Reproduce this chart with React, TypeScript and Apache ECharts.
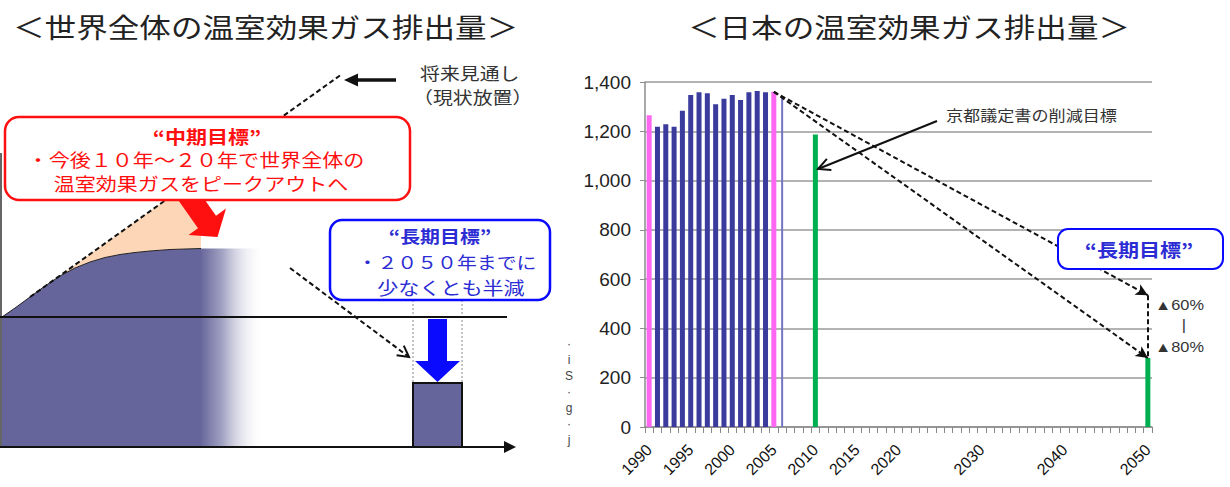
import React, { useEffect, useRef } from 'react';
import * as echarts from 'echarts';

// ---------- data (right chart: Japan GHG emissions, Mt-CO2) ----------
const categoryYears = [
  '1990', '1991', '1992', '1993', '1994', '1995', '1996', '1997', '1998', '1999',
  '2000', '2001', '2002', '2003', '2004', '2005', '2006', '2007', '2008', '2009',
  '2010', '2011', '2012', '2013', '2014', '2015', '2016', '2017', '2018', '2019',
  '2020', '2021', '2022', '2023', '2024', '2025', '2026', '2027', '2028', '2029',
  '2030', '2031', '2032', '2033', '2034', '2035', '2036', '2037', '2038', '2039',
  '2040', '2041', '2042', '2043', '2044', '2045', '2046', '2047', '2048', '2049',
  '2050',
];
const shownYearLabels = ['1990', '1995', '2000', '2005', '2010', '2015', '2020', '2030', '2040', '2050'];

const baseYearCats = ['1990', '2005'];
const baseYearValues = [1265, 1360];
const annualCats = ['1991', '1992', '1993', '1994', '1995', '1996', '1997', '1998', '1999', '2000', '2001', '2002', '2003', '2004'];
const annualValues = [1218, 1229, 1218, 1283, 1347, 1358, 1354, 1310, 1332, 1347, 1327, 1358, 1363, 1358];
const latestCats = ['2006'];
const latestValues = [1335];
const targetCats = ['2010', '2050'];
const targetValues = [1187, 280];

const longTermStartYear = '2005';
const longTermStartValue = 1360;
const longTermEndYear = '2050';
const cut60Value = 535;
const cut80Value = 280;

const yMin = 0;
const yMax = 1400;
const yStep = 200;

const PINK = '#ff66f2';
const NAVY_BAR = '#3b3b9e';
const THIN_BAR = '#7474c4';
const GREEN = '#00b050';
const NAVY = '#65659b';
const PEACH = '#fcd6b6';
const RED = '#ff1010';
const BLUE = '#0a0aff';
const BLUE_TEXT = '#2c2cd4';
const JP = '"Noto Sans CJK JP", "Noto Sans", sans-serif';
const LAT = '"Liberation Sans", Arial, sans-serif';
const SX = 1.17; // horizontal stretch of the source picture

function arrowHead(x1: number, y1: number, x2: number, y2: number, len = 10, half = 5) {
  const dx = x2 - x1;
  const dy = y2 - y1;
  const L = Math.hypot(dx, dy);
  const ux = dx / L;
  const uy = dy / L;
  const bx = x2 - ux * len;
  const by = y2 - uy * len;
  return [
    [bx - uy * half, by + ux * half],
    [x2, y2],
    [bx + uy * half, by - ux * half],
  ];
}

function txt(text: string, x: number, y: number, fontSize: number, fill: string, opts: any = {}) {
  return {
    type: 'text',
    x,
    y,
    z: 120,
    scaleX: opts.scaleX ?? SX,
    style: {
      text,
      fontSize,
      fontFamily: opts.fontFamily || JP,
      fontWeight: opts.fontWeight || 'normal',
      fill,
      align: opts.align || 'center',
      verticalAlign: 'middle',
      lineHeight: opts.lineHeight,
    },
  };
}

function buildGraphics() {
  const els: any[] = [];
  // ---------- left schematic ----------
  const curve = [
    [2, 317], [15, 308], [30, 297], [45, 286], [60, 276], [75, 268], [90, 262],
    [105, 257.5], [120, 254.5], [135, 252.5], [150, 251], [170, 249.5], [201, 248.5],
  ];
  els.push({ type: 'polygon', z: 100, shape: { points: [...curve, [201, 447], [2, 447]] }, style: { fill: NAVY } });
  els.push({
    type: 'rect', z: 100, shape: { x: 200, y: 248.5, width: 64, height: 198.5 },
    style: {
      fill: new echarts.graphic.LinearGradient(0, 0, 1, 0, [
        { offset: 0, color: NAVY },
        { offset: 0.35, color: 'rgba(101,101,155,0.6)' },
        { offset: 1, color: 'rgba(255,255,255,0)' },
      ]),
    },
  });
  const peachCurve = curve.filter((p) => p[0] >= 30).slice().reverse();
  els.push({ type: 'polygon', z: 100, shape: { points: [[30, 297], [163, 202], [165, 200], [201, 200], ...peachCurve] }, style: { fill: PEACH } });
  els.push({ type: 'polyline', z: 101, shape: { points: curve }, style: { stroke: '#222', lineWidth: 1, fill: null } });
  // projection dashed line
  els.push({ type: 'line', z: 102, shape: { x1: 30, y1: 297, x2: 342, y2: 74 }, style: { stroke: '#111', lineWidth: 2, lineDash: [5, 3] } });
  // red arrow
  els.push({
    type: 'polygon', z: 103,
    shape: { points: [[190, 178.7], [216, 215.7], [226, 208.5], [217.5, 237], [188.5, 235], [198, 228.3], [172, 191.3]] },
    style: { fill: RED },
  });
  // red box
  els.push({ type: 'rect', z: 104, shape: { x: 5, y: 117, width: 405, height: 83, r: 14 }, style: { fill: '#fff', stroke: RED, lineWidth: 2.5 } });
  els.push(txt('“中期目標”', 207, 136, 18, RED, { fontWeight: 'bold' }));
  els.push(txt('・今後１０年～２０年で世界全体の', 196, 159, 18, RED));
  els.push(txt('温室効果ガスをピークアウトへ', 201, 183, 18, RED));
  // axes lines of schematic
  els.push({ type: 'line', z: 105, shape: { x1: 1, y1: 153, x2: 1, y2: 447 }, style: { stroke: '#666', lineWidth: 2 } });
  els.push({ type: 'line', z: 105, shape: { x1: 0, y1: 317, x2: 507, y2: 317 }, style: { stroke: '#111', lineWidth: 2 } });
  els.push({ type: 'line', z: 105, shape: { x1: 0, y1: 447, x2: 506, y2: 447 }, style: { stroke: '#111', lineWidth: 2 } });
  els.push({ type: 'polygon', z: 105, shape: { points: [[504, 441], [516, 447], [504, 453]] }, style: { fill: '#111' } });
  // future outlook label + arrow
  els.push(txt('将来見通し', 420, 73, 17, '#333', { align: 'left' }));
  els.push(txt('（現状放置）', 413, 97, 17, '#333', { align: 'left' }));
  els.push({ type: 'line', z: 105, shape: { x1: 396, y1: 80, x2: 356, y2: 80 }, style: { stroke: '#111', lineWidth: 3.5 } });
  els.push({ type: 'polygon', z: 105, shape: { points: [[358, 73.5], [344, 80], [358, 86.5]] }, style: { fill: '#111' } });
  // dashed arrow to the 2050 column
  els.push({ type: 'line', z: 105, shape: { x1: 290, y1: 268, x2: 409, y2: 357 }, style: { stroke: '#111', lineWidth: 2, lineDash: [5, 3] } });
  els.push({ type: 'polyline', z: 105, shape: { points: arrowHead(290, 268, 409, 357, 11, 6) }, style: { stroke: '#111', lineWidth: 2, fill: null } });
  // 2050 column
  els.push({ type: 'line', z: 104, shape: { x1: 413, y1: 300, x2: 413, y2: 383 }, style: { stroke: '#888', lineWidth: 1, lineDash: [2, 2] } });
  els.push({ type: 'line', z: 104, shape: { x1: 462, y1: 300, x2: 462, y2: 383 }, style: { stroke: '#888', lineWidth: 1, lineDash: [2, 2] } });
  els.push({
    type: 'polygon', z: 106,
    shape: { points: [[428, 319], [447, 319], [447, 361], [460, 361], [437.5, 382], [415, 361], [428, 361]] },
    style: { fill: BLUE },
  });
  els.push({ type: 'rect', z: 106, shape: { x: 413, y: 383, width: 49, height: 64 }, style: { fill: NAVY, stroke: '#111', lineWidth: 2 } });
  // blue box
  els.push({ type: 'rect', z: 107, shape: { x: 330, y: 220, width: 220, height: 80, r: 12 }, style: { fill: '#fff', stroke: BLUE, lineWidth: 2.5 } });
  els.push(txt('“長期目標”', 440, 236, 17, BLUE_TEXT, { fontWeight: 'bold' }));
  els.push(txt('・２０５０年までに', 447, 262, 17, BLUE_TEXT));
  els.push(txt('少なくとも半減', 451, 287, 18, BLUE_TEXT));
  // titles
  els.push(txt('＜世界全体の温室効果ガス排出量＞', 13, 26, 27, '#222', { align: 'left' }));
  els.push(txt('＜日本の温室効果ガス排出量＞', 909, 26, 27, '#222'));
  // ---------- right chart annotations ----------
  els.push(txt('京都議定書の削減目標', 946, 114, 15, '#333', { align: 'left', scaleX: 1.14 }));
  els.push({ type: 'line', z: 110, shape: { x1: 937, y1: 121, x2: 818, y2: 169 }, style: { stroke: '#111', lineWidth: 2 } });
  els.push({ type: 'polyline', z: 110, shape: { points: arrowHead(937, 121, 818, 169, 12, 6) }, style: { stroke: '#111', lineWidth: 2, fill: null } });
  els.push({ type: 'rect', z: 110, shape: { x: 1058, y: 229, width: 165, height: 40, r: 10 }, style: { fill: '#fff', stroke: BLUE, lineWidth: 2 } });
  els.push(txt('“長期目標”', 1139, 249, 18, BLUE_TEXT, { fontWeight: 'bold' }));
  els.push(txt('▲60%', 1155, 305, 14, '#333', { align: 'left', fontFamily: LAT }));
  els.push(txt('|', 1184, 325, 14, '#333', { fontFamily: LAT }));
  els.push(txt('▲80%', 1155, 347, 14, '#333', { align: 'left', fontFamily: LAT }));
  els.push(txt('·\ni\nS\n·\ng\n·\nj', 569, 392, 12, '#444', { fontFamily: LAT, lineHeight: 16, scaleX: 1 }));
  return els;
}

export default function App() {
  const ref = useRef<HTMLDivElement>(null);
  useEffect(() => {
    if (!ref.current) return;
    const chart = echarts.init(ref.current, undefined, { renderer: 'svg' });

    const barData = categoryYears.map((y) => {
      let i = baseYearCats.indexOf(y);
      if (i >= 0) return { value: baseYearValues[i], itemStyle: { color: PINK } };
      i = annualCats.indexOf(y);
      if (i >= 0) return { value: annualValues[i], itemStyle: { color: NAVY_BAR } };
      i = targetCats.indexOf(y);
      if (i >= 0) return { value: targetValues[i], itemStyle: { color: GREEN } };
      return '-';
    });
    const latestData = categoryYears.map((y) => {
      const i = latestCats.indexOf(y);
      return i >= 0 ? latestValues[i] : '-';
    });

    chart.setOption({
      animation: false,
      grid: { left: 645, right: 78, top: 82, bottom: 60, containLabel: false },
      xAxis: {
        type: 'category',
        data: categoryYears,
        boundaryGap: true,
        axisLine: { lineStyle: { color: '#8c8c8c', width: 1.5 } },
        axisTick: { show: true, interval: 0, length: 6, lineStyle: { color: '#888' } },
        axisLabel: {
          interval: (_i: number, v: string) => shownYearLabels.includes(v),
          rotate: 45,
          fontSize: 16,
          color: '#111',
          fontFamily: LAT,
          margin: 20,
        },
        splitLine: { show: false },
      },
      yAxis: {
        type: 'value',
        min: yMin,
        max: yMax,
        interval: yStep,
        axisLine: { show: true, lineStyle: { color: '#8c8c8c', width: 1.5 } },
        axisTick: { show: true, length: 5, lineStyle: { color: '#8c8c8c' } },
        axisLabel: {
          fontSize: 19,
          color: '#222',
          fontFamily: LAT,
          margin: 14,
          formatter: (v: number) => v.toLocaleString('en-US'),
        },
        splitLine: { lineStyle: { color: '#9a9a9a', width: 1.5 } },
      },
      series: [
        {
          type: 'bar',
          data: barData,
          barWidth: 5,
          markLine: {
            silent: true,
            symbol: ['none', 'arrow'],
            symbolSize: [9, 12],
            label: { show: false },
            lineStyle: { type: [5, 3], color: '#111', width: 2 },
            data: [
              [{ coord: [longTermStartYear, longTermStartValue] }, { coord: [longTermEndYear, cut60Value] }],
              [{ coord: [longTermStartYear, longTermStartValue] }, { coord: [longTermEndYear, cut80Value] }],
              [
                { coord: [longTermEndYear, cut60Value], symbol: 'none' },
                { coord: [longTermEndYear, cut80Value], symbol: 'none' },
              ],
            ],
          },
        },
        {
          type: 'pictorialBar',
          data: latestData,
          symbol: 'rect',
          symbolSize: [2, '100%'],
          itemStyle: { color: THIN_BAR },
        },
      ],
      graphic: { elements: buildGraphics() },
    });
    return () => chart.dispose();
  }, []);

  return (
    <div
      ref={ref}
      style={{ position: 'absolute', left: 0, top: 0, width: 1230, height: 487, background: '#fff' }}
    />
  );
}
